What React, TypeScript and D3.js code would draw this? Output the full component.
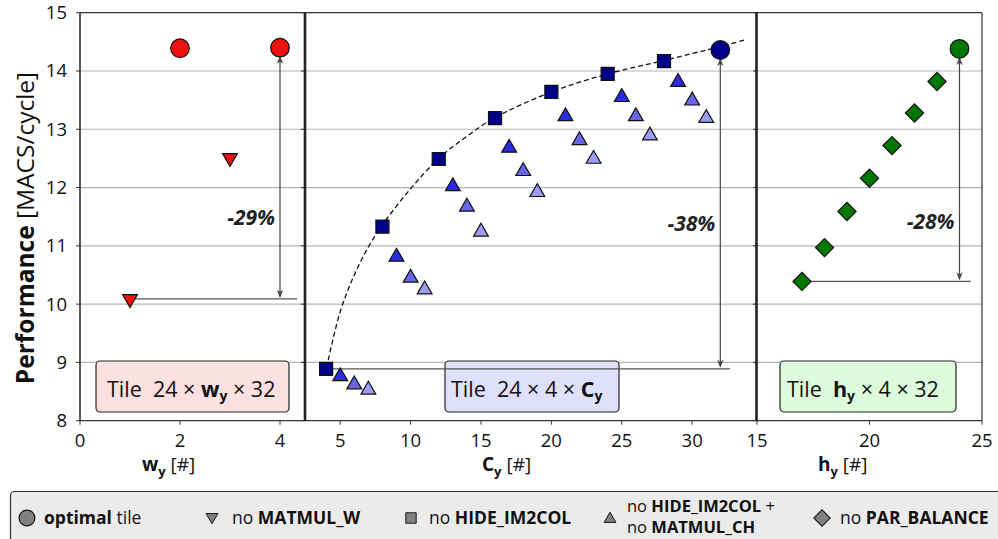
import React from "react";
import * as d3 from "d3";

// ---------- data ----------
const yTicks = [8, 9, 10, 11, 12, 13, 14, 15];
const wTicks = [0, 2, 4];
const cTicks = [5, 10, 15, 20, 25, 30];
const hTicks = [15, 20, 25];

// left panel: tile 24 x w_y x 32
const wOptimal = [2, 4];
const wOptimalPerf = [14.39, 14.4];
const wNoMatmulW = [1, 3];
const wNoMatmulWPerf = [10.09, 12.51];

// middle panel: tile 24 x 4 x C_y
const cNoHide = [4, 8, 12, 16, 20, 24, 28];
const cNoHidePerf = [8.89, 11.33, 12.49, 13.19, 13.64, 13.95, 14.17];
const cNoHideMatmul = [5, 6, 7, 9, 10, 11, 13, 14, 15, 17, 18, 19, 21, 22, 23, 25, 26, 27, 29, 30, 31];
const cNoHideMatmulPerf = [
  8.76, 8.62, 8.53, 10.81, 10.45, 10.25, 12.02, 11.67, 11.24, 12.68, 12.28, 11.92, 13.22, 12.81, 12.49,
  13.55, 13.22, 12.89, 13.81, 13.49, 13.19,
];
const cOptimal = [32];
const cOptimalPerf = [14.36];
// dashed trend curve
const fitC = [4.15, 5, 6, 7, 8, 10, 12, 14, 16, 20, 24, 28, 32, 33.7];
const fitPerf = [9.04, 9.87, 10.5, 10.98, 11.36, 11.98, 12.5, 12.88, 13.2, 13.64, 13.95, 14.18, 14.42, 14.53];

// right panel: tile h_y x 4 x 32
const hNoPar = [17, 18, 19, 20, 21, 22, 23];
const hNoParPerf = [10.39, 10.97, 11.59, 12.16, 12.72, 13.28, 13.82];
const hOptimal = [24];
const hOptimalPerf = [14.38];

// drop annotations
const dropLabels = ["-29%", "-38%", "-28%"];

// ---------- styles ----------
const FONT = "'Open Sans', 'Noto Sans', sans-serif";
const RED = "#ee1111";
const NAVY = "#00008b";
const TRI = ["#2b2be2", "#6767e6", "#9c9cf0"];
const GREEN = "#007800";
const GRAY = "#808080";
const STROKE = "#111";

const W = 998;
const H = 539;

const y = d3.scaleLinear().domain([8, 15]).range([420.7, 12.7]);
const xL = d3.scaleLinear().domain([0, 4.5]).range([80, 305]);
const xM = d3.scaleLinear().domain([2.5, 34.5]).range([305, 755.5]);
const xR = d3.scaleLinear().domain([15, 25]).range([757, 982]);

const sym = (type: d3.SymbolType, size: number) => d3.symbol().type(type).size(size)() as string;
const triPath = sym(d3.symbolTriangle, 95);
const squarePath = sym(d3.symbolSquare, 170);
const diamondPath = sym(d3.symbolSquare, 165);

function Marker({ kind, x, yy, fill, scale = 1 }: any) {
  if (kind === "circle") return <circle cx={x} cy={yy} r={9.3 * scale} fill={fill} stroke={STROKE} strokeWidth={1.2} />;
  if (kind === "down")
    return <path d={triPath} transform={`translate(${x},${yy}) rotate(180) scale(${scale})`} fill={fill} stroke={STROKE} strokeWidth={1.2} />;
  if (kind === "up")
    return <path d={triPath} transform={`translate(${x},${yy}) scale(${scale})`} fill={fill} stroke={STROKE} strokeWidth={1.2} />;
  if (kind === "square")
    return <path d={squarePath} transform={`translate(${x},${yy}) scale(${scale})`} fill={fill} stroke={STROKE} strokeWidth={1.2} />;
  return <path d={diamondPath} transform={`translate(${x},${yy}) rotate(45) scale(${scale})`} fill={fill} stroke={STROKE} strokeWidth={1.2} />;
}

function Drop({ ax, yTop, yBot, hx0, hx1, label, ly }: any) {
  const top = y(yTop) + 9;
  const bot = y(yBot) - 2;
  return (
    <g>
      <line x1={hx0} x2={hx1} y1={y(yBot)} y2={y(yBot)} stroke="#555" strokeWidth={1.2} />
      <line x1={ax} x2={ax} y1={top} y2={bot} stroke="#444" strokeWidth={1.2} markerStart="url(#ah)" markerEnd="url(#ah)" />
      <text x={ax - 5} y={ly} textAnchor="end" fontSize={21} fontWeight="bold" fontStyle="italic" fill="#222">
        {label}
      </text>
    </g>
  );
}

export default function App() {
  const fitLine = d3
    .line<number>()
    .x((_, i) => xM(fitC[i]))
    .y((d) => y(d))
    .curve(d3.curveCatmullRom.alpha(0.5));

  const panels = [
    { x: xL, ticks: wTicks, x0: 80, x1: 305 },
    { x: xM, ticks: cTicks, x0: 305, x1: 756.5 },
    { x: xR, ticks: hTicks, x0: 757, x1: 982 },
  ];

  return (
    <svg width={W} height={H} style={{ position: "absolute", left: 0, top: 0 }} fontFamily={FONT}>
      <defs>
        <marker id="ah" viewBox="0 0 10 10" refX="9" refY="5" markerWidth="8" markerHeight="8" orient="auto-start-reverse" markerUnits="userSpaceOnUse">
          <path d="M0,1 L10,5 L0,9 L3,5 Z" fill="#444" />
        </marker>
      </defs>
      <rect width={W} height={H} fill="#fff" />

      {/* grid */}
      {yTicks.slice(1, -1).map((t) => (
        <line key={t} x1={80} x2={982} y1={y(t)} y2={y(t)} stroke="#b5b5b5" strokeWidth={1.2} />
      ))}

      {/* y ticks on each panel's left edge */}
      {panels.map((p, i) =>
        yTicks.map((t) => <line key={`${i}-${t}`} x1={p.x0 - 4} x2={p.x0} y1={y(t)} y2={y(t)} stroke="#333" strokeWidth={1} />)
      )}
      {yTicks.map((t) => (
        <text key={t} x={67} y={y(t) + 6.5} textAnchor="end" fontSize={18.5} fill="#111">
          {t}
        </text>
      ))}

      {/* x ticks */}
      {panels.map((p, i) =>
        p.ticks.map((t) => (
          <g key={`${i}-${t}`}>
            <line x1={p.x(t)} x2={p.x(t)} y1={y(8)} y2={y(8) + 4} stroke="#333" strokeWidth={1} />
            <text x={p.x(t)} y={447} textAnchor="middle" fontSize={18.5} fill="#111">
              {t}
            </text>
          </g>
        ))
      )}

      {/* tile boxes */}
      <rect x={96} y={361} width={193} height={51} rx={4} fill="#fde0e0" stroke="#222" strokeWidth={1.2} />
      <text x={107} y={397} fontSize={21.5} fill="#111" style={{ whiteSpace: "pre" }}>
        {"Tile  24 × "}
        <tspan fontWeight="bold">w</tspan>
        <tspan fontWeight="bold" fontSize={14} dy={4}>y</tspan>
        <tspan dy={-4}>{" × 32"}</tspan>
      </text>
      <rect x={445} y={361} width={174} height={51} rx={4} fill="#dfe0fc" stroke="#222" strokeWidth={1.2} />
      <text x={451} y={397} fontSize={21.5} fill="#111" style={{ whiteSpace: "pre" }}>
        {"Tile  24 × 4 × "}
        <tspan fontWeight="bold">C</tspan>
        <tspan fontWeight="bold" fontSize={14} dy={4}>y</tspan>
      </text>
      <rect x={780} y={361} width={176} height={51} rx={4} fill="#dcfcdc" stroke="#222" strokeWidth={1.2} />
      <text x={787} y={397} fontSize={21.5} fill="#111" style={{ whiteSpace: "pre" }}>
        {"Tile  "}
        <tspan fontWeight="bold">h</tspan>
        <tspan fontWeight="bold" fontSize={14} dy={4}>y</tspan>
        <tspan dy={-4}>{" × 4 × 32"}</tspan>
      </text>

      {/* drops */}
      <Drop ax={xL(4)} yTop={wOptimalPerf[1]} yBot={wNoMatmulWPerf[0]} hx0={xL(1)} hx1={xL(4.34)} label={dropLabels[0]} ly={225} />
      <Drop ax={xM(32)} yTop={cOptimalPerf[0]} yBot={cNoHidePerf[0]} hx0={xM(4)} hx1={xM(32.7)} label={dropLabels[1]} ly={231} />
      <Drop ax={xR(24)} yTop={hOptimalPerf[0]} yBot={hNoParPerf[0]} hx0={xR(17)} hx1={xR(24.5)} label={dropLabels[2]} ly={229} />

      {/* trend */}
      <path d={fitLine(fitPerf) as string} fill="none" stroke="#111" strokeWidth={1.3} strokeDasharray="5,3" />

      {/* markers */}
      {wNoMatmulW.map((w, i) => (
        <Marker key={`wd${i}`} kind="down" x={xL(w)} yy={y(wNoMatmulWPerf[i])} fill={RED} />
      ))}
      {wOptimal.map((w, i) => (
        <Marker key={`wo${i}`} kind="circle" x={xL(w)} yy={y(wOptimalPerf[i])} fill={RED} />
      ))}
      {cNoHideMatmul.map((c, i) => (
        <Marker key={`ct${i}`} kind="up" x={xM(c)} yy={y(cNoHideMatmulPerf[i])} fill={TRI[(c % 4) - 1]} />
      ))}
      {cNoHide.map((c, i) => (
        <Marker key={`cs${i}`} kind="square" x={xM(c)} yy={y(cNoHidePerf[i])} fill={NAVY} />
      ))}
      {cOptimal.map((c, i) => (
        <Marker key={`co${i}`} kind="circle" x={xM(c)} yy={y(cOptimalPerf[i])} fill={NAVY} />
      ))}
      {hNoPar.map((h, i) => (
        <Marker key={`hd${i}`} kind="diamond" x={xR(h)} yy={y(hNoParPerf[i])} fill={GREEN} />
      ))}
      {hOptimal.map((h, i) => (
        <Marker key={`ho${i}`} kind="circle" x={xR(h)} yy={y(hOptimalPerf[i])} fill={GREEN} />
      ))}

      {/* frame */}
      <line x1={80} x2={982} y1={y(15)} y2={y(15)} stroke="#333" strokeWidth={1.2} />
      <line x1={80} x2={982} y1={y(8)} y2={y(8)} stroke="#333" strokeWidth={1.2} />
      <line x1={80} x2={80} y1={y(15)} y2={y(8)} stroke="#222" strokeWidth={1.5} />
      <line x1={982} x2={982} y1={y(15)} y2={y(8)} stroke="#333" strokeWidth={1.2} />
      <line x1={305} x2={305} y1={y(15)} y2={y(8)} stroke="#222" strokeWidth={2.6} />
      <line x1={756.5} x2={756.5} y1={y(15)} y2={y(8)} stroke="#222" strokeWidth={2.6} />

      {/* axis titles */}
      <text x={142} y={471} fontSize={19} fill="#111" style={{ whiteSpace: "pre" }}>
        <tspan fontWeight="bold">w</tspan>
        <tspan fontWeight="bold" fontSize={13} dy={5}>y</tspan>
        <tspan dy={-5}>{" [#]"}</tspan>
      </text>
      <text x={482} y={471} fontSize={19} fill="#111" style={{ whiteSpace: "pre" }}>
        <tspan fontWeight="bold">C</tspan>
        <tspan fontWeight="bold" fontSize={13} dy={5}>y</tspan>
        <tspan dy={-5}>{" [#]"}</tspan>
      </text>
      <text x={818} y={471} fontSize={19} fill="#111" style={{ whiteSpace: "pre" }}>
        <tspan fontWeight="bold">h</tspan>
        <tspan fontWeight="bold" fontSize={13} dy={5}>y</tspan>
        <tspan dy={-5}>{" [#]"}</tspan>
      </text>
      <text transform="translate(34,228) rotate(-90)" textAnchor="middle" fontSize={24.5} fill="#111" style={{ whiteSpace: "pre" }}>
        <tspan fontWeight="bold">Performance</tspan>
        <tspan>{" [MACS/cycle]"}</tspan>
      </text>

      {/* legend */}
      <rect x={10.5} y={491.5} width={1000} height={60} rx={4} fill="#ebebeb" stroke="#333" strokeWidth={1.2} />
      <Marker kind="circle" x={27} yy={518} fill={GRAY} scale={0.85} />
      <text x={44} y={524} fontSize={17.5} fill="#111" style={{ whiteSpace: "pre" }}>
        <tspan fontWeight="bold">optimal</tspan>
        {" tile"}
      </text>
      <Marker kind="down" x={212} yy={517} fill={GRAY} scale={0.8} />
      <text x={232} y={524} fontSize={17.5} fill="#111" style={{ whiteSpace: "pre" }}>
        {"no "}
        <tspan fontWeight="bold">MATMUL_W</tspan>
      </text>
      <Marker kind="square" x={411} yy={518} fill={GRAY} scale={0.8} />
      <text x={429} y={524} fontSize={17.5} fill="#111" style={{ whiteSpace: "pre" }}>
        {"no "}
        <tspan fontWeight="bold">HIDE_IM2COL</tspan>
      </text>
      <Marker kind="up" x={610} yy={519} fill={GRAY} scale={0.8} />
      <text x={627} y={512} fontSize={16.5} fill="#111" style={{ whiteSpace: "pre" }}>
        {"no "}
        <tspan fontWeight="bold">HIDE_IM2COL</tspan>
        {" +"}
      </text>
      <text x={627} y={533} fontSize={16.5} fill="#111" style={{ whiteSpace: "pre" }}>
        {"no "}
        <tspan fontWeight="bold">MATMUL_CH</tspan>
      </text>
      <Marker kind="diamond" x={822} yy={518} fill={GRAY} scale={0.9} />
      <text x={840} y={524} fontSize={17.5} fill="#111" style={{ whiteSpace: "pre" }}>
        {"no "}
        <tspan fontWeight="bold">PAR_BALANCE</tspan>
      </text>
    </svg>
  );
}
